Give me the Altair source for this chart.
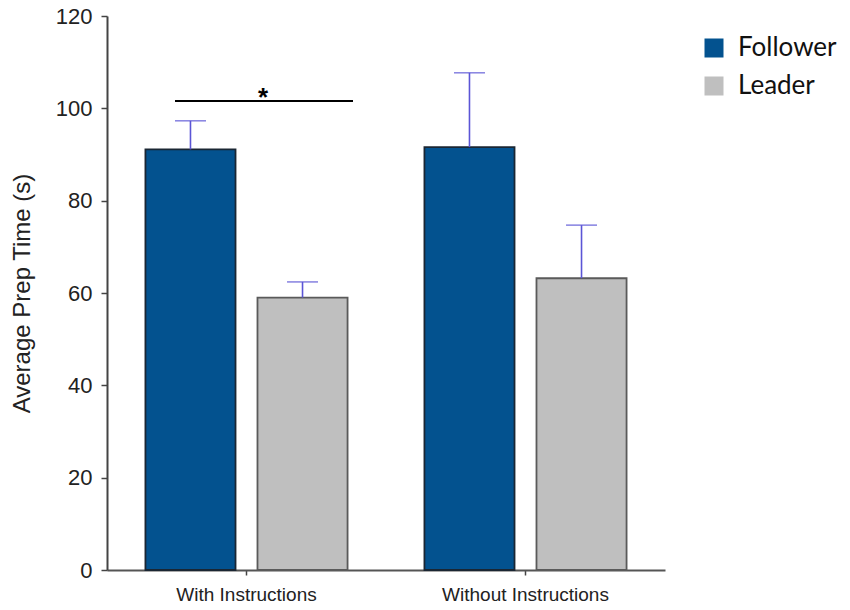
import altair as alt
import pandas as pd

conditions = ["With Instructions", "Without Instructions"]
roles = ["Follower", "Leader"]
follower_means = [91.1, 91.6]
follower_upper = [97.3, 107.7]
leader_means = [59.0, 63.2]
leader_upper = [62.4, 74.7]
sig_level = [101.6]
sig_label = ["*"]

rows = []
for i, c in enumerate(conditions):
    rows.append({"Condition": c, "Role": "Follower", "mean": follower_means[i], "upper": follower_upper[i]})
    rows.append({"Condition": c, "Role": "Leader", "mean": leader_means[i], "upper": leader_upper[i]})
df = pd.DataFrame(rows)
sig_df = pd.DataFrame({"y": sig_level, "label": sig_label})

x_enc = alt.X(
    "Condition:N",
    sort=conditions,
    scale=alt.Scale(domain=conditions, paddingInner=0, paddingOuter=0),
    axis=alt.Axis(
        title=None, labelAngle=0, labelFont="Liberation Sans", labelFontSize=19,
        labelColor="#222222", tickSize=5, tickColor="#444444", tickWidth=1.5,
        domainColor="#555555", domainWidth=2, labelPadding=10, grid=False,
    ),
)
xo_enc = alt.XOffset(
    "Role:N",
    scale=alt.Scale(domain=roles, paddingInner=0.196, paddingOuter=0.343),
)
y_scale = alt.Scale(domain=[0, 120])
y_axis = alt.Axis(
    title="Average Prep Time (s)", values=[0, 20, 40, 60, 80, 100, 120],
    labelFont="Liberation Sans", labelFontSize=22, labelColor="#222222",
    labelPadding=9, tickSize=6, tickColor="#444444", tickWidth=1.5,
    domainColor="#444444", domainWidth=2, grid=False,
    titleFont="Liberation Sans", titleFontSize=24, titleFontWeight="normal",
    titleColor="#222222", titleX=-85, titleY=277, titleAngle=270,
    titleAlign="center", titleBaseline="middle",
)

bars = alt.Chart(df).mark_bar(strokeWidth=1.8).encode(
    x=x_enc,
    xOffset=xo_enc,
    y=alt.Y("mean:Q", scale=y_scale, axis=y_axis),
    color=alt.Color(
        "Role:N",
        scale=alt.Scale(domain=roles, range=["#03528F", "#BFBFBF"]),
        legend=alt.Legend(
            title=None, orient="none", legendX=594, legendY=19,
            symbolType="square", symbolSize=361, symbolStrokeWidth=0,
            labelFont="Lato", labelFontSize=26, labelColor="#111111",
            labelOffset=11, rowPadding=12, padding=0,
        ),
    ),
    stroke=alt.Stroke(
        "Role:N",
        scale=alt.Scale(domain=roles, range=["#1a2633", "#5a5a5a"]),
        legend=None,
    ),
)

err_rule = alt.Chart(df).mark_rule(color="#5B55D6", strokeWidth=1.6).encode(
    x=alt.X("Condition:N", sort=conditions),
    xOffset=alt.XOffset("Role:N"),
    y=alt.Y("mean:Q"),
    y2="upper:Q",
)
err_cap = alt.Chart(df).mark_tick(color="#5B55D6", thickness=1.6, size=31).encode(
    x=alt.X("Condition:N", sort=conditions),
    xOffset=alt.XOffset("Role:N"),
    y=alt.Y("upper:Q"),
)

sig_line = alt.Chart(sig_df).mark_rule(color="#000000", strokeWidth=2).encode(
    x=alt.value(68), x2=alt.value(246), y=alt.Y("y:Q"),
)
sig_text = alt.Chart(sig_df).mark_text(
    font="Liberation Sans", fontSize=26, fontWeight="bold", color="#000000",
    align="center", baseline="alphabetic", dy=5,
).encode(
    x=alt.value(156), y=alt.Y("y:Q"), text="label:N",
)

chart = alt.layer(bars, err_rule, err_cap, sig_line, sig_text).properties(
    width=558, height=554,
    autosize=alt.AutoSizeParams(type="none"),
    padding={"left": 99, "top": 8, "right": 177, "bottom": 40},
    background="white",
).configure_view(strokeOpacity=0)

chart.save("out.html", embed_options={"renderer": "svg", "actions": False})
